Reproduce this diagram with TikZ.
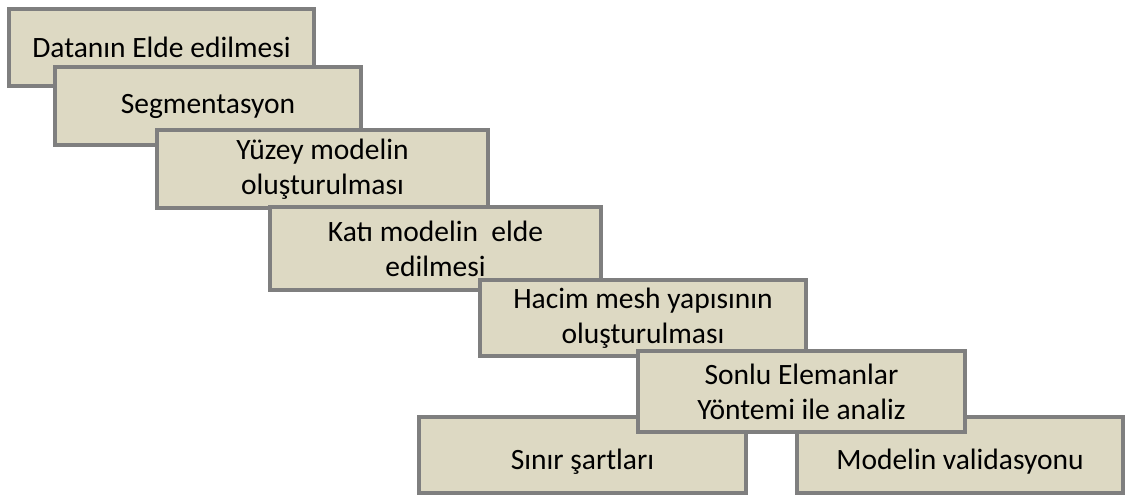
\documentclass[tikz,border=0pt]{standalone}
\usepackage{fontspec}
\setmainfont{Carlito}
\usepackage{tikz}
\usetikzlibrary{positioning}
\definecolor{stepfill}{RGB}{221,217,195}
\definecolor{stepline}{RGB}{127,127,127}

\begin{document}
\begin{tikzpicture}[
    x=1pt, y=-1pt,
    stepbox/.style={rectangle, draw=stepline, fill=stepfill, line width=4pt, align=center, inner sep=2pt,
        font=\fontsize{29.5}{35}\selectfont},
    lowtext/.style={text height=34pt, text depth=6pt},
]
    \useasboundingbox (0,0) rectangle (1130,497);
    % Steps
    \node[stepbox, minimum width=305pt, minimum height=77pt] (data) at (161.5,47.5) {Datanın Elde edilmesi};
    \node[stepbox, minimum width=306pt, minimum height=78pt] (segment) at (208,106) {Segmentasyon};
    \node[stepbox, minimum width=331pt, minimum height=78pt] (surface) at (322.5,169) {Yüzey modelin\\oluşturulması};
    \node[stepbox, minimum width=331pt, minimum height=83pt] (solid) at (435.5,248.5) {Katı modelin~ elde\\edilmesi};
    \node[stepbox, minimum width=326pt, minimum height=76pt] (mesh) at (643,318) {Hacim mesh yapısının\\oluşturulması};
    % Bottom row
    \node[stepbox, lowtext, minimum width=327pt, minimum height=76pt] (boundary) at (582.5,455) {Sınır şartları};
    \node[stepbox, lowtext, minimum width=326pt, minimum height=76pt] (validation) at (960,455) {Modelin validasyonu};
    \node[stepbox, minimum width=327pt, minimum height=81pt] (fea) at (801.5,391.5) {Sonlu Elemanlar\\Yöntemi ile analiz};
\end{tikzpicture}
\end{document}
